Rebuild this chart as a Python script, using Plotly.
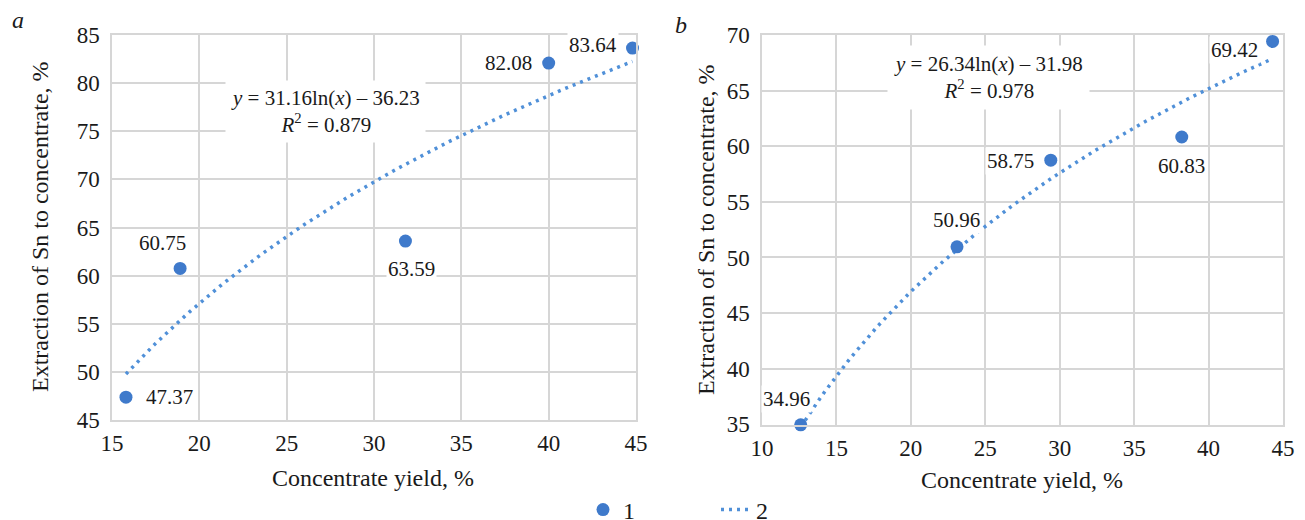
import numpy as np
import plotly.graph_objects as go

# ---- data ----
a_x = [15.8, 18.9, 31.8, 40.0, 44.8]
a_y = [47.37, 60.75, 63.59, 82.08, 83.64]
a_coef = (31.16, -36.23)
a_r2 = 0.879

b_x = [12.6, 23.1, 29.4, 38.2, 44.3]
b_y = [34.96, 50.96, 58.75, 60.83, 69.42]
b_coef = (26.34, -31.98)
b_r2 = 0.978

x_title = "Concentrate yield, %"
y_title = "Extraction of Sn to concentrate, %"

# label offsets (px)
a_shift = [(44, 0), (-18, 25), (6, -28), (-40, 0), (-40, 3)]
b_shift = [(-14, 26), (0, 27), (-40, -1), (0, -29), (-38, -9)]

FONT = "Liberation Serif"
MARK = "#3f7acb"
TREND = "#5090d8"
GRID = "#d6d6d6"
TXT = "#1a1a1a"

OFF = 8  # default page body margin
W, H = 1305, 520


def px(p):  # page x -> paper
    return (p - OFF) / W


def py(p):  # page y -> paper
    return 1 - (p - OFF) / H


fig = go.Figure()


def trend(xs, coef):
    xx = np.linspace(min(xs), max(xs), 120)
    return xx, coef[0] * np.log(xx) + coef[1]


for i, (xs, ys, coef) in enumerate([(a_x, a_y, a_coef), (b_x, b_y, b_coef)]):
    xa = "x" if i == 0 else "x2"
    ya = "y" if i == 0 else "y2"
    tx, ty = trend(xs, coef)
    fig.add_trace(go.Scatter(x=tx, y=ty, mode="lines", xaxis=xa, yaxis=ya,
                             line=dict(color=TREND, width=3.5, dash="3px,5px"),
                             name="2", showlegend=(i == 0), legend="legend2"))
    fig.add_trace(go.Scatter(x=xs, y=ys, mode="markers", xaxis=xa, yaxis=ya,
                             marker=dict(color=MARK, size=13), cliponaxis=False,
                             name="1", showlegend=(i == 0), legend="legend"))

annots = []
for xs, ys, shifts, xr, yr in [(a_x, a_y, a_shift, "x", "y"), (b_x, b_y, b_shift, "x2", "y2")]:
    for x, y, (dx, dy) in zip(xs, ys, shifts):
        annots.append(dict(x=x, y=y, xref=xr, yref=yr, text=f"{y:.2f}", showarrow=False,
                           xshift=dx, yshift=dy, bgcolor="white",
                           xanchor="center", yanchor="middle",
                           font=dict(family=FONT, size=21, color=TXT)))

# equations
efont = dict(family=FONT, size=21, color=TXT)
annots.append(dict(x=27.25, y=77.1, xref="x", yref="y",
                   text=f"<i>y</i> = {a_coef[0]:.2f}ln(<i>x</i>) – {abs(a_coef[1]):.2f}<br><i>R</i><sup>2</sup> = {a_r2}",
                   showarrow=False, bgcolor="white", align="center", borderpad=5,
                   xanchor="center", yanchor="middle", font=efont))
annots.append(dict(x=25.2, y=66.15, xref="x2", yref="y2",
                   text=f"<i>y</i> = {b_coef[0]:.2f}ln(<i>x</i>) – {abs(b_coef[1]):.2f}<br><i>R</i><sup>2</sup> = {b_r2}",
                   showarrow=False, bgcolor="white", align="center", borderpad=6,
                   xanchor="center", yanchor="middle", font=efont))

# axis titles and panel letters
tfont = dict(family=FONT, size=24, color=TXT)
common = dict(xref="paper", yref="paper", showarrow=False, xanchor="center",
              yanchor="middle", font=tfont)
annots += [
    dict(x=px(40), y=py(227), text=y_title, textangle=-90, **common),
    dict(x=px(373), y=py(478), text=x_title, **common),
    dict(x=px(706), y=py(230), text=y_title, textangle=-90, **common),
    dict(x=px(1022), y=py(480), text=x_title, **common),
    dict(x=px(18), y=py(20), text="<i>a</i>", **common),
    dict(x=px(681), y=py(25), text="<i>b</i>", **common),
]

axis_common = dict(showgrid=True, gridcolor=GRID, gridwidth=1.5, showline=True,
                   linecolor=GRID, linewidth=1.5, mirror=True, zeroline=False,
                   ticks="", tickfont=dict(family=FONT, size=23, color=TXT),
                   automargin=False)

lfont = dict(family=FONT, size=24, color=TXT)
fig.update_layout(
    width=W, height=H,
    margin=dict(l=0, r=0, t=0, b=0, autoexpand=False),
    plot_bgcolor="white", paper_bgcolor="white",
    xaxis=dict(domain=[px(112), px(636)], range=[15, 45], dtick=5, anchor="y",
               ticklabelstandoff=2, **axis_common),
    yaxis=dict(domain=[py(420), py(35)], range=[45, 85], dtick=5, anchor="x",
               ticklabelstandoff=6, **axis_common),
    xaxis2=dict(domain=[px(762), px(1283)], range=[10, 45], dtick=5, anchor="y2",
                ticklabelstandoff=2, **axis_common),
    yaxis2=dict(domain=[py(425), py(35)], range=[34.94, 70], tick0=35, dtick=5, anchor="x2",
                ticklabelstandoff=6, **axis_common),
    annotations=annots,
    showlegend=True,
    legend=dict(orientation="h", x=px(583), xanchor="left", y=py(510), yanchor="middle",
                font=lfont, bgcolor="rgba(0,0,0,0)"),
    legend2=dict(orientation="h", x=px(716), xanchor="left", y=py(510), yanchor="middle",
                 font=lfont, bgcolor="rgba(0,0,0,0)"),
)

fig.write_html("out.html", config={"displayModeBar": False})
